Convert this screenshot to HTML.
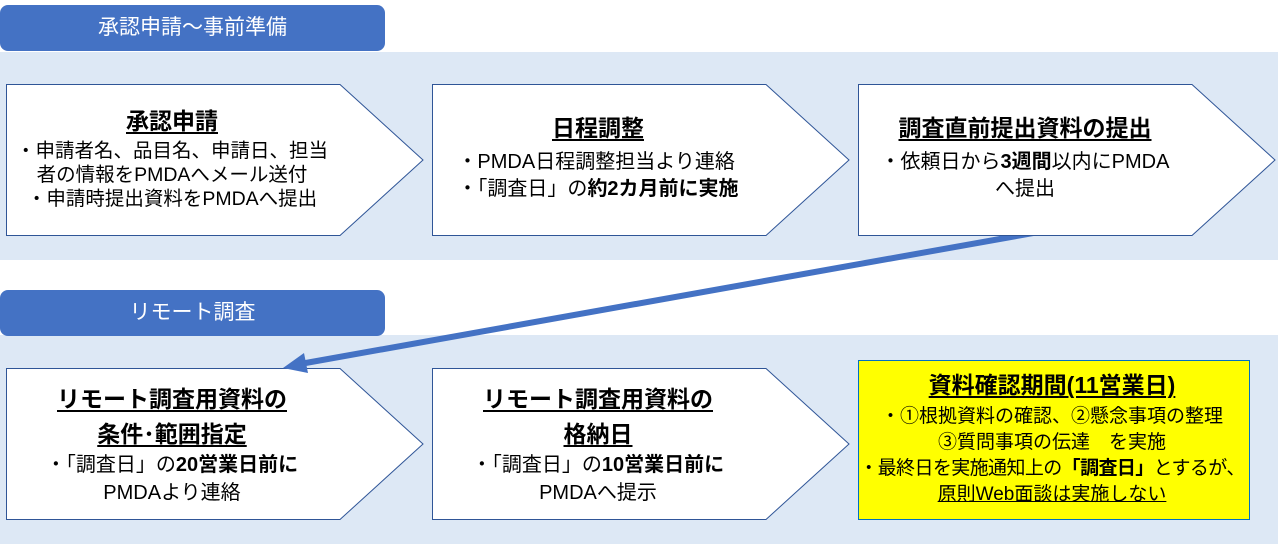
<!DOCTYPE html>
<html><head><meta charset="utf-8"><style>
body{margin:0;width:1278px;height:544px;position:relative;overflow:hidden;background:#fff;font-family:"Liberation Sans","Noto Sans CJK JP",sans-serif;color:#000}
svg{position:absolute;left:0;top:0}
.t{position:absolute;white-space:nowrap;transform:translateX(-50%);text-align:center;font-size:20px;line-height:26px}
.h{font-weight:bold;font-size:23px;text-decoration:underline;text-underline-offset:3px;text-decoration-thickness:1.5px}
b{font-weight:bold}
.tab{position:absolute;left:0;width:385px;height:46px;background:#4472c4;border-radius:8px;color:#fff;font-size:21px;line-height:46px;text-align:center}
</style></head><body>
<svg width="1278" height="544">
<rect x="0" y="52" width="1278" height="208" fill="#dde8f5"/>
<rect x="0" y="335" width="1278" height="209" fill="#dde8f5"/>
<g fill="#fff" stroke="#2f5597" stroke-width="1">
<polygon points="6.5,84.5 340,84.5 423,160 340,235.5 6.5,235.5"/>
<polygon points="432.5,84.5 766,84.5 849,160 766,235.5 432.5,235.5"/>
<line x1="1050" y1="230" x2="300" y2="364" stroke="#4472c4" stroke-width="6"/>
<polygon points="858.5,84.5 1192,84.5 1275,160 1192,235.5 858.5,235.5"/>
<polygon points="6.5,368.5 340,368.5 423,444 340,519.5 6.5,519.5"/>
<polygon points="432.5,368.5 766,368.5 849,444 766,519.5 432.5,519.5"/>
</g>
<polygon points="283,368 304,353 308,373" fill="#4472c4"/>
<rect x="858.5" y="360.5" width="391" height="159" fill="#ffff00" stroke="#0070c0" stroke-width="1"/>
</svg>
<div class="tab" style="top:5px">承認申請～事前準備</div>
<div class="tab" style="top:290px">リモート調査</div>

<div class="t" style="left:172px;top:108px"><span class="h">承認申請</span></div>
<div class="t" style="left:172px;top:139px;line-height:24px;font-size:19.5px">・申請者名、品目名、申請日、担当<br>者の情報をPMDAへメール送付<br>・申請時提出資料をPMDAへ提出</div>

<div class="t" style="left:598px;top:115px"><span class="h">日程調整</span></div>
<div class="t" style="left:598px;top:149px;line-height:27px;text-align:left">・PMDA日程調整担当より連絡<br>・「調査日」の<b>約2カ月前に実施</b></div>

<div class="t" style="left:1025px;top:115px"><span class="h">調査直前提出資料の提出</span></div>
<div class="t" style="left:1025px;top:149px;line-height:27px">・依頼日から<b>3週間</b>以内にPMDA<br>へ提出</div>

<div class="t" style="left:172px;top:383px;line-height:33px"><span class="h">リモート調査用資料の</span><br><span class="h">条件･範囲指定</span></div>
<div class="t" style="left:172px;top:451px;line-height:28px">・「調査日」の<b>20営業日前に</b><br>PMDAより連絡</div>

<div class="t" style="left:598px;top:383px;line-height:33px"><span class="h">リモート調査用資料の</span><br><span class="h">格納日</span></div>
<div class="t" style="left:598px;top:451px;line-height:28px">・「調査日」の<b>10営業日前に</b><br>PMDAへ提示</div>

<div class="t" style="left:1052px;top:372px"><span class="h">資料確認期間(11営業日)</span></div>
<div class="t" style="left:1052px;top:404px;line-height:26px;font-size:19px">・①根拠資料の確認、②懸念事項の整理<br>③質問事項の伝達　を実施<br><span style="letter-spacing:-0.6px">・最終日を実施通知上の<b>「調査日」</b>とするが、</span><br><u>原則Web面談は実施しない</u></div>
</body></html>
